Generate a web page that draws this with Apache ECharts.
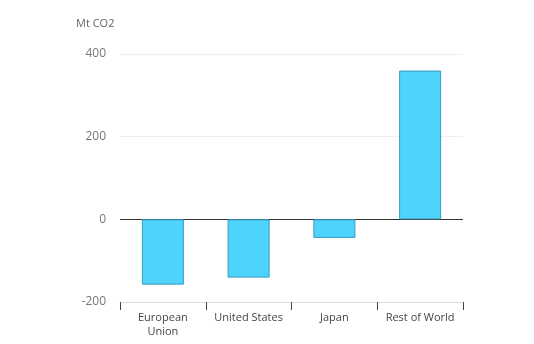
<!DOCTYPE html>
<html><head><meta charset="utf-8">
<script src="https://cdn.jsdelivr.net/npm/echarts@6/dist/echarts.min.js"></script>
<style>html,body{margin:0;padding:0;background:#fff}#c{width:534px;height:344px}</style>
</head><body><div id="c"></div>
<script>
const categories = ['European\nUnion', 'United States', 'Japan', 'Rest of World'];
const values = [-158, -141, -45, 360];
const yTicks = [-200, 0, 200, 400];
const unitLabel = 'Mt CO2';

const chart = echarts.init(document.getElementById('c'), null, {renderer: 'canvas'});
chart.setOption({
  animation: false,
  backgroundColor: '#fff',
  title: {
    text: unitLabel, left: 71, top: 13,
    textStyle: {fontFamily: 'Open Sans', fontSize: 11, fontWeight: 'normal', color: '#666'}
  },
  grid: {left: 120, right: 71, top: 54, bottom: 42},
  xAxis: {
    type: 'category', data: categories, position: 'bottom',
    axisLine: {show: true, onZero: false, lineStyle: {color: '#dcdcea', width: 1}},
    axisTick: {show: true, length: 8, inside: false, lineStyle: {color: '#444'}},
    axisLabel: {interval: 0, fontFamily: 'Open Sans', fontSize: 11, color: '#444', margin: 9, lineHeight: 14}
  },
  yAxis: {
    type: 'value', min: yTicks[0], max: yTicks[yTicks.length - 1], interval: 200,
    axisLine: {show: false}, axisTick: {show: false},
    axisLabel: {fontFamily: 'Open Sans', fontSize: 12, color: '#777', margin: 14},
    splitLine: {lineStyle: {color: ['#dcdcea', '#333', '#eeeeee', '#eeeeee'], width: 1}}
  },
  series: [{
    type: 'bar', data: values, barWidth: '49%',
    itemStyle: {color: '#4dd3fc', borderColor: '#3a9cc0', borderWidth: 1}
  }]
});
</script></body></html>
